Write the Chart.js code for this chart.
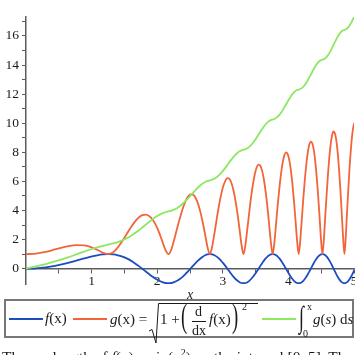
<!DOCTYPE html>
<html>
<head>
<meta charset="utf-8">
<script src="https://cdn.jsdelivr.net/npm/chart.js@4.4.1/dist/chart.umd.min.js"></script>
<style>
html,body{margin:0;padding:0;background:#fff;}
#wrap{position:relative;width:355px;height:355px;overflow:hidden;font-family:"Liberation Serif","Times New Roman",serif;color:#1a1a1a;}
#cw{position:absolute;left:0;top:0;width:355px;height:300px;}
#lgbox{position:absolute;left:4px;top:299px;width:346px;height:35px;border:2px solid #777;}
.ln{position:absolute;height:2px;width:34px;top:318px;}
.t{position:absolute;font-size:15px;line-height:15px;white-space:nowrap;}
.big{position:absolute;font-size:34px;line-height:34px;transform:scaleX(0.55);transform-origin:left top;}
.sm{position:absolute;font-size:10px;line-height:10px;white-space:nowrap;}
#cap{position:absolute;left:2px;top:349px;font-size:15.4px;line-height:15px;white-space:nowrap;}
#rad{position:absolute;left:0;top:0;pointer-events:none;}
</style>
</head>
<body>
<div id="wrap">
  <div id="cw"><canvas id="c"></canvas></div>
  <div id="lgbox"></div>
  <div class="ln" id="ln0" style="left:9px"></div>
  <div class="t" style="left:45px;top:311px"><i>f</i>(x)</div>
  <div class="ln" id="ln1" style="left:73px"></div>
  <div class="t" style="left:110px;top:312px"><i>g</i>(x) =</div>
  <svg id="rad" width="355" height="355"><path d="M149,331 L152,329.5 L156,343 L158.5,303.5 L258,303.5" fill="none" stroke="#1a1a1a" stroke-width="1"/></svg>
  <div class="t" style="left:160px;top:312px">1 +</div>
  <div class="big" style="left:181px;top:299px">(</div>
  <div class="t" style="left:195px;top:304px;font-size:14px">d</div>
  <div style="position:absolute;left:192px;top:321px;width:14px;height:1px;background:#1a1a1a"></div>
  <div class="t" style="left:192px;top:323px;font-size:14px">dx</div>
  <div class="t" style="left:209px;top:312px"><i>f</i>(x)</div>
  <div class="big" style="left:232px;top:299px">)</div>
  <div class="sm" style="left:242px;top:302px">2</div>
  <div class="ln" id="ln2" style="left:262px"></div>
  <div class="t" style="left:299px;top:302px;font-size:30px;line-height:30px;transform:scaleX(0.6);transform-origin:left top">&#8747;</div>
  <div class="sm" style="left:307px;top:302px">x</div>
  <div class="sm" style="left:303px;top:329px">0</div>
  <div class="t" style="left:313px;top:312px"><i>g</i>(<i>s</i>) d<i>s</i></div>
  <div id="cap">The arc length of <i>f</i>(x) = sin(x<sup style="font-size:10px;line-height:0">2</sup>) on the interval [0, 5]. The arc length is given by the integral</div>
</div>
<script>
// Sample positions along x
const xs = [0, 0.15, 0.3,
 0.443, 0.627, 0.767, 0.886, 0.991, 1.085, 1.172, 1.253,
 1.329, 1.401, 1.470, 1.535, 1.598, 1.658, 1.716, 1.772,
 1.827, 1.880, 1.931, 1.982, 2.031, 2.078, 2.125, 2.171,
 2.216, 2.259, 2.302, 2.345, 2.386, 2.427, 2.467, 2.507,
 2.545, 2.584, 2.622, 2.659, 2.695, 2.732, 2.767, 2.802,
 2.837, 2.872, 2.906, 2.939, 2.972, 3.005, 3.038, 3.070,
 3.102, 3.133, 3.164, 3.195, 3.226, 3.256, 3.286, 3.316,
 3.345, 3.375, 3.404, 3.432, 3.461, 3.489, 3.517, 3.545,
 3.572, 3.600, 3.627, 3.654, 3.681, 3.707, 3.734, 3.760,
 3.786, 3.812, 3.837, 3.863, 3.888, 3.913, 3.938, 3.963,
 3.988, 4.013, 4.037, 4.061, 4.085, 4.109, 4.133, 4.157,
 4.180, 4.204, 4.227, 4.250, 4.273, 4.296, 4.319, 4.342,
 4.364, 4.387, 4.409, 4.431, 4.453, 4.475, 4.497, 4.519,
 4.541, 4.562, 4.584, 4.605, 4.626, 4.647, 4.668, 4.689,
 4.710, 4.731, 4.752, 4.772, 4.793, 4.813, 4.834, 4.854,
 4.874, 4.894, 4.914, 4.934, 4.954, 4.974, 4.994, 5.013];

// f(x) series
const fVals = [0, 0.0225, 0.09,
 0.195, 0.383, 0.556, 0.707, 0.831, 0.924, 0.981, 1,
 0.981, 0.924, 0.831, 0.707, 0.556, 0.383, 0.195, 0,
 -0.195, -0.383, -0.556, -0.707, -0.831, -0.924, -0.981, -1,
 -0.981, -0.924, -0.831, -0.707, -0.556, -0.383, -0.195, 0,
 0.195, 0.383, 0.556, 0.707, 0.831, 0.924, 0.981, 1,
 0.981, 0.924, 0.831, 0.707, 0.556, 0.383, 0.195, 0,
 -0.195, -0.383, -0.556, -0.707, -0.831, -0.924, -0.981, -1,
 -0.981, -0.924, -0.831, -0.707, -0.556, -0.383, -0.195, 0,
 0.195, 0.383, 0.556, 0.707, 0.831, 0.924, 0.981, 1,
 0.981, 0.924, 0.831, 0.707, 0.556, 0.383, 0.195, 0,
 -0.195, -0.383, -0.556, -0.707, -0.831, -0.924, -0.981, -1,
 -0.981, -0.924, -0.831, -0.707, -0.556, -0.383, -0.195, 0,
 0.195, 0.383, 0.556, 0.707, 0.831, 0.924, 0.981, 1,
 0.981, 0.924, 0.831, 0.707, 0.556, 0.383, 0.195, 0,
 -0.195, -0.383, -0.556, -0.707, -0.831, -0.924, -0.981, -1,
 -0.981, -0.924, -0.831, -0.707, -0.556, -0.383, -0.195, 0];

// g(x) series
const gVals = [1, 1.044, 1.165,
 1.325, 1.530, 1.621, 1.603, 1.487, 1.300, 1.100, 1,
 1.127, 1.466, 1.915, 2.390, 2.839, 3.223, 3.512, 3.683,
 3.721, 3.615, 3.364, 2.976, 2.468, 1.879, 1.299, 1,
 1.322, 1.998, 2.747, 3.464, 4.092, 4.595, 4.942, 5.112,
 5.092, 4.878, 4.473, 3.891, 3.158, 2.318, 1.472, 1,
 1.492, 2.415, 3.380, 4.275, 5.043, 5.643, 6.042, 6.221,
 6.166, 5.875, 5.357, 4.628, 3.721, 2.685, 1.626, 1,
 1.644, 2.770, 3.912, 4.956, 5.841, 6.524, 6.971, 7.160,
 7.079, 6.726, 6.114, 5.263, 4.210, 3.009, 1.767, 1,
 1.784, 3.084, 4.380, 5.554, 6.543, 7.300, 7.790, 7.990,
 7.886, 7.481, 6.787, 5.830, 4.648, 3.300, 1.898, 1,
 1.913, 3.369, 4.802, 6.093, 7.176, 8.001, 8.531, 8.741,
 8.619, 8.167, 7.400, 6.346, 5.048, 3.568, 2.020, 1,
 2.034, 3.632, 5.190, 6.589, 7.758, 8.645, 9.212, 9.432,
 9.294, 8.799, 7.965, 6.823, 5.419, 3.817, 2.135, 1,
 2.149, 3.877, 5.551, 7.049, 8.299, 9.245, 9.846, 10.076];

// running integral of g
const sVals = [0, 0.153, 0.319,
 0.498, 0.761, 0.983, 1.175, 1.338, 1.470, 1.575, 1.660,
 1.741, 1.834, 1.949, 2.090, 2.253, 2.436, 2.632, 2.834,
 3.036, 3.230, 3.410, 3.570, 3.703, 3.807, 3.881, 3.934,
 3.986, 4.059, 4.161, 4.292, 4.448, 4.625, 4.817, 5.015,
 5.213, 5.404, 5.581, 5.736, 5.866, 5.965, 6.033, 6.076,
 6.119, 6.187, 6.285, 6.413, 6.568, 6.744, 6.933, 7.130,
 7.328, 7.517, 7.692, 7.846, 7.974, 8.071, 8.136, 8.175,
 8.214, 8.279, 8.375, 8.503, 8.656, 8.831, 9.020, 9.216,
 9.413, 9.602, 9.776, 9.930, 10.057, 10.153, 10.216, 10.252,
 10.288, 10.351, 10.447, 10.573, 10.727, 10.901, 11.089, 11.285,
 11.481, 11.670, 11.844, 11.997, 12.123, 12.219, 12.281, 12.315,
 12.349, 12.411, 12.506, 12.632, 12.785, 12.959, 13.147, 13.343,
 13.539, 13.727, 13.901, 14.054, 14.180, 14.274, 14.336, 14.369,
 14.401, 14.462, 14.557, 14.683, 14.836, 15.009, 15.197, 15.393,
 15.589, 15.777, 15.950, 16.103, 16.228, 16.323, 16.383, 16.415,
 16.447, 16.507, 16.602, 16.727, 16.880, 17.053, 17.241, 17.437];

const seriesNames = ['f(x)', 'g(x)', '∫ g(s) ds'];
const seriesColors = ['#1c4cbf', '#f2643a', '#8fe660'];

const xTickValues = [0.5, 1, 1.5, 2, 2.5, 3, 3.5, 4, 4.5, 5];
const xTickLabels = ['', '1', '', '2', '', '3', '', '4', '', '5'];
const yTickValues = [0, 1, 2, 3, 4, 5, 6, 7, 8, 9, 10, 11, 12, 13, 14, 15, 16, 17];
const yTickLabels = ['0', '', '2', '', '4', '', '6', '', '8', '', '10', '', '12', '', '14', '', '16', ''];

const seriesValues = [fVals, gVals, sVals];
const axisColor = '#5c5c5c';
const tickFont = {family: "'Liberation Serif', serif", size: 13.5};

const datasets = seriesValues.map((vals, i) => ({
  label: seriesNames[i],
  data: xs.map((x, j) => ({x: x, y: vals[j]})),
  borderColor: seriesColors[i],
  backgroundColor: seriesColors[i],
  borderWidth: 1.8,
  pointRadius: 0,
  fill: false,
  cubicInterpolationMode: 'monotone',
  order: 3 - i
}));

seriesColors.forEach((c, i) => { document.getElementById('ln' + i).style.background = c; });

new Chart(document.getElementById('c'), {
  type: 'line',
  data: {datasets},
  options: {
    responsive: true,
    maintainAspectRatio: false,
    animation: false,
    devicePixelRatio: 1,
    layout: {padding: {top: 17, right: 1, bottom: 16, left: 0}},
    plugins: {legend: {display: false}, tooltip: {enabled: false}},
    scales: {
      x: {
        type: 'linear',
        min: 0, max: 5,
        position: {y: 0},
        border: {display: true, color: axisColor, width: 1.5},
        grid: {drawOnChartArea: false, drawTicks: true, tickLength: 4, color: axisColor},
        afterBuildTicks: s => { s.ticks = xTickValues.map(v => ({value: v})); },
        afterFit: s => { s.paddingLeft = 0; s.paddingRight = 0; },
        ticks: {
          autoSkip: false, maxRotation: 0, padding: 1, color: '#1a1a1a', font: tickFont,
          callback: (v, i) => xTickLabels[i]
        },
        title: {display: true, text: 'x', color: '#1a1a1a',
          font: {family: "'Liberation Serif', serif", size: 14, style: 'italic', lineHeight: 0.8},
          padding: {top: -1, bottom: 0}}
      },
      y: {
        type: 'linear',
        min: -1.05, max: 17.3,
        border: {display: true, color: axisColor, width: 1.5},
        grid: {drawOnChartArea: false, drawTicks: true, tickLength: 4, color: axisColor},
        afterBuildTicks: s => { s.ticks = yTickValues.map(v => ({value: v})); },
        afterFit: s => { s.width = 26; s.paddingTop = 0; s.paddingBottom = 0; },
        ticks: {
          autoSkip: false, padding: 3, color: '#1a1a1a', font: tickFont,
          callback: (v, i) => yTickLabels[i]
        }
      }
    }
  }
});
</script>
</body>
</html>
